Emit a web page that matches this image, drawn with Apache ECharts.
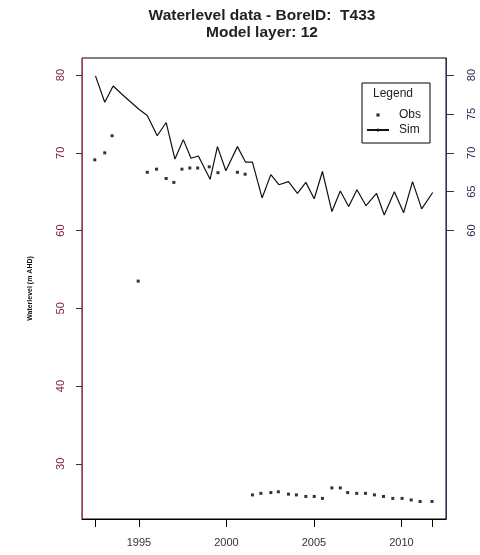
<!DOCTYPE html>
<html>
<head>
<meta charset="utf-8">
<script src="https://cdn.jsdelivr.net/npm/echarts@6/dist/echarts.min.js"></script>
<style>html,body{margin:0;padding:0;background:#fff}#c{width:480px;height:555px}</style>
</head>
<body>
<div id="c"></div>
<script>
var simYears = [1992.52, 1993.05, 1993.53, 1994.0, 1994.5, 1995.0, 1995.48, 1996.05, 1996.56, 1997.06, 1997.54, 1997.98, 1998.4, 1999.07, 1999.49, 1999.97, 2000.63, 2001.1, 2001.49, 2002.04, 2002.54, 2003.0, 2003.55, 2004.06, 2004.54, 2005.02, 2005.49, 2006.03, 2006.51, 2006.99, 2007.46, 2007.98, 2008.58, 2009.02, 2009.6, 2010.13, 2010.64, 2011.16, 2011.79];
var simValues = [79.9, 76.5, 78.6, 77.6, 76.6, 75.6, 74.8, 72.2, 73.9, 69.2, 71.7, 69.3, 69.6, 66.6, 70.8, 67.7, 70.8, 68.8, 68.8, 64.2, 67.2, 65.9, 66.3, 64.8, 66.2, 64.1, 67.6, 62.45, 65.1, 63.1, 65.25, 63.2, 64.8, 62.0, 65.0, 62.3, 66.3, 62.8, 64.9];
var obsYears = [1992.48, 1993.05, 1993.47, 1994.96, 1995.48, 1996.01, 1996.56, 1997.0, 1997.46, 1997.91, 1998.36, 1999.02, 1999.52, 2000.63, 2001.07, 2001.49, 2001.97, 2002.54, 2002.97, 2003.55, 2004.0, 2004.54, 2005.02, 2005.49, 2006.03, 2006.51, 2006.93, 2007.45, 2007.95, 2008.46, 2008.98, 2009.51, 2010.04, 2010.56, 2011.07, 2011.75];
var obsValues = [69.1, 70.0, 72.2, 53.5, 67.5, 67.9, 66.7, 66.2, 67.9, 68.05, 68.05, 68.2, 67.45, 67.5, 67.25, 26.0, 26.2, 26.3, 26.4, 26.1, 26.0, 25.8, 25.8, 25.55, 26.9, 26.9, 26.3, 26.2, 26.2, 26.0, 25.8, 25.55, 25.55, 25.35, 25.15, 25.15];
var xTickValues = [1992.52, 1995, 2000, 2005, 2010, 2011.77];
var xLabelValues = [1995, 2000, 2005, 2010];
var leftTickValues = [30, 40, 50, 60, 70, 80];
var rightTickValues = [60, 65, 70, 75, 80];

var FONT = 'Liberation Sans';
var chart = echarts.init(document.getElementById('c'));
var xMin = 1991.75, xMax = 2012.55, yMin = 22.9, yMax = 82.2;
chart.setOption({
  animation: false,
  backgroundColor: '#fff',
  title: [
    {
      text: 'Waterlevel data - BoreID:  T433\nModel layer: 12',
      left: 262, top: 7, textAlign: 'center', padding: 0,
      textStyle: {fontFamily: FONT, fontSize: 15.5, fontWeight: 'bold', color: '#222', lineHeight: 17}
    },
    {
      text: 'Legend', left: 393, top: 87, textAlign: 'center', padding: 0,
      textStyle: {fontFamily: FONT, fontSize: 12, fontWeight: 'normal', color: '#222', lineHeight: 14}
    }
  ],
  legend: {
    data: ['Obs', 'Sim'],
    orient: 'vertical',
    left: 362, top: 83,
    itemWidth: 22, itemHeight: 4, itemGap: 1,
    padding: [25, 9, 6, 4],
    borderColor: '#000', borderWidth: 1,
    textStyle: {fontFamily: FONT, fontSize: 12, color: '#222', lineHeight: 14, padding: [0, 0, 0, 5]}
  },
  grid: {left: 82, right: 34, top: 58, bottom: 36, show: true, borderColor: '#000', borderWidth: 1, backgroundColor: 'transparent'},
  xAxis: {
    type: 'value', min: xMin, max: xMax,
    axisLine: {show: true, lineStyle: {color: '#000', width: 1}},
    axisTick: {show: true, length: 8, customValues: xTickValues, lineStyle: {color: '#000'}},
    axisLabel: {customValues: xLabelValues, margin: 18, fontFamily: FONT, fontSize: 11, color: '#333',
      formatter: function (v) { return String(v); }},
    splitLine: {show: false}
  },
  yAxis: [
    {
      type: 'value', min: yMin, max: yMax, position: 'left',
      name: 'Waterlevel (m AHD)', nameLocation: 'middle', nameGap: 48, nameRotate: 90,
      nameTextStyle: {fontFamily: FONT, fontSize: 7, fontWeight: 'bold', color: '#111'},
      axisLine: {show: true, lineStyle: {color: '#c0305a', width: 1}},
      axisTick: {show: true, length: 6, customValues: leftTickValues, lineStyle: {color: '#333'}},
      axisLabel: {customValues: leftTickValues, rotate: 90, margin: 16, fontFamily: FONT, fontSize: 11, color: '#7a1a34'},
      splitLine: {show: false}
    },
    {
      type: 'value', min: yMin, max: yMax, position: 'right',
      axisLine: {show: true, lineStyle: {color: '#2e2e66', width: 1}},
      axisTick: {show: true, length: 8, customValues: rightTickValues, lineStyle: {color: '#333'}},
      axisLabel: {customValues: rightTickValues, rotate: 90, margin: 20, fontFamily: FONT, fontSize: 11, color: '#2a2a55'},
      splitLine: {show: false}
    }
  ],
  series: [
    {
      name: 'Obs', type: 'line', yAxisIndex: 0,
      symbol: 'rect', symbolSize: 3, showSymbol: true, showAllSymbol: true,
      lineStyle: {width: 0, opacity: 0},
      itemStyle: {color: '#333'},
      data: obsYears.map(function (y, i) { return [y, obsValues[i]]; })
    },
    {
      name: 'Sim', type: 'line', yAxisIndex: 0,
      symbol: 'none',
      lineStyle: {color: '#111', width: 1.2},
      itemStyle: {color: '#111'},
      data: simYears.map(function (y, i) { return [y, simValues[i]]; })
    }
  ]
});
</script>
</body>
</html>
